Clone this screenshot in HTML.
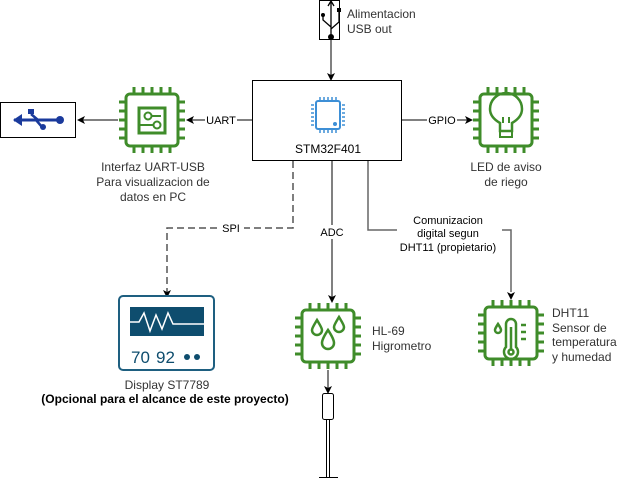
<!DOCTYPE html>
<html><head><meta charset="utf-8"><style>
body{margin:0;background:#fff;}
svg{display:block;font-family:"Liberation Sans",sans-serif;}
</style></head><body>
<svg width="618" height="480" viewBox="0 0 618 480" xmlns="http://www.w3.org/2000/svg">
<defs>
<marker id="ar" markerWidth="8" markerHeight="8" refX="7" refY="4" orient="auto" markerUnits="userSpaceOnUse">
<path d="M0,0 L8,4 L0,8 L2,4 z" fill="#000"/></marker>
<g id="chip" fill="none" stroke="#3f8c2a" stroke-width="3">
<rect x="-26" y="-26" width="52" height="52" rx="4"/>
<path d="M-18,-26v-7M-9,-26v-7M0,-26v-7M9,-26v-7M18,-26v-7M-18,26v7M-9,26v7M0,26v7M9,26v7M18,26v7M-26,-18h-7M-26,-9h-7M-26,0h-7M-26,9h-7M-26,18h-7M26,-18h7M26,-9h7M26,0h7M26,9h7M26,18h7"/>
</g>
</defs>

<rect x="319.5" y="0.5" width="20" height="39" fill="#fff" stroke="#000"/>
<g stroke="#000" stroke-width="1.3" fill="none">
<path d="M331,37V2M331,27L323,20V15M331,29L339,22V10"/><path d="M328,6L331,1L334,6"/>
</g>
<circle cx="331" cy="37" r="3" fill="#000"/><circle cx="323" cy="15" r="2" fill="#000"/><rect x="337" y="8" width="4" height="4" fill="#000"/>
<text x="347" y="18" font-size="12" fill="#333">Alimentacion</text>
<text x="347" y="33" font-size="12" fill="#333">USB out</text>
<line x1="331" y1="40" x2="331" y2="80" stroke="#000" marker-end="url(#ar)"/>

<rect x="252.5" y="80.5" width="149" height="80" fill="#fff" stroke="#000"/>
<g fill="none" stroke="#3d8fd6" stroke-width="2">
<rect x="316" y="101" width="24" height="28" rx="2"/>
</g>
<g stroke="#3d8fd6" stroke-width="1.5">
<path d="M320,97v3M324,97v3M328,97v3M332,97v3M336,97v3M320,130v3M324,130v3M328,130v3M332,130v3M336,130v3M311,105h3M311,109h3M311,113h3M311,117h3M311,121h3M311,125h3M342,105h3M342,109h3M342,113h3M342,117h3M342,121h3M342,125h3"/>
</g>
<circle cx="335" cy="124" r="2" fill="#3d8fd6"/>
<text x="328" y="153" font-size="12" fill="#000" text-anchor="middle">STM32F401</text>

<rect x="0.5" y="102.5" width="75" height="35" fill="#fff" stroke="#000"/>
<g fill="#1a3a9c" stroke="#1a3a9c">
<path d="M14,120H58" stroke-width="3"/>
<path d="M13,120L22,114V126Z" stroke="none"/>
<rect x="28" y="109" width="6" height="5" stroke="none"/>
<path d="M31,114L38,120M36,120L42,127" fill="none" stroke-width="2.5"/>
<circle cx="43" cy="127" r="3" stroke="none"/>
<circle cx="60" cy="120" r="4" stroke="none"/>
</g>

<use href="#chip" x="152" y="120"/>
<rect x="139" y="108" width="26" height="25" fill="none" stroke="#3f8c2a" stroke-width="3"/>
<circle cx="148" cy="116" r="3.5" fill="none" stroke="#3f8c2a" stroke-width="2"/>
<circle cx="157" cy="125" r="3.5" fill="none" stroke="#3f8c2a" stroke-width="2"/>
<path d="M152,116h9M139,125h14" stroke="#3f8c2a" stroke-width="2"/>
<line x1="252" y1="120" x2="187" y2="120" stroke="#000" marker-end="url(#ar)"/>
<rect x="205" y="112" width="32" height="15" fill="#fff"/>
<text x="221" y="124" font-size="11" text-anchor="middle">UART</text>
<line x1="118" y1="120" x2="78" y2="120" stroke="#000" marker-end="url(#ar)"/>
<g font-size="12" fill="#333" text-anchor="middle">
<text x="153" y="171">Interfaz UART-USB</text>
<text x="153" y="186">Para visualizacion de</text>
<text x="153" y="201">datos en PC</text>
</g>

<use href="#chip" x="506" y="120"/>
<path d="M495,133v-8c-7,-4,-10,-9,-10,-14a16,16 0 0 1 32,0c0,5,-3,10,-10,14v8z" fill="none" stroke="#3f8c2a" stroke-width="2.5" transform="translate(5,-2)"/>
<rect x="500" y="131" width="12" height="6" fill="none" stroke="#3f8c2a" stroke-width="2"/>
<path d="M503,123v-6M509,123v-6" stroke="#3f8c2a" stroke-width="2"/>
<line x1="401" y1="120" x2="472" y2="120" stroke="#000" marker-end="url(#ar)"/>
<rect x="427" y="112" width="30" height="15" fill="#fff"/>
<text x="442" y="124" font-size="11" text-anchor="middle">GPIO</text>
<g font-size="12" fill="#333" text-anchor="middle">
<text x="506" y="171">LED de aviso</text>
<text x="506" y="186">de riego</text>
</g>

<path d="M293,161V228H167V292" fill="none" stroke="#555" stroke-width="1.5" stroke-dasharray="7,4"/>
<path d="M167,298l-4,-8l4,2l4,-2z" fill="#000"/>
<rect x="218" y="222" width="26" height="13" fill="#fff"/>
<text x="231" y="232" font-size="11" text-anchor="middle">SPI</text>

<line x1="332" y1="161" x2="332" y2="302" stroke="#000" marker-end="url(#ar)"/>
<rect x="316" y="225" width="32" height="14" fill="#fff"/>
<text x="332" y="236" font-size="11" text-anchor="middle">ADC</text>

<path d="M368,161V230H511V292" fill="none" stroke="#666" stroke-width="1.5"/>
<path d="M511,300l-4,-8l4,2l4,-2z" fill="#000"/>
<rect x="397" y="210" width="105" height="44" fill="#fff"/>
<g font-size="11" text-anchor="middle">
<text x="448" y="224">Comunizacion</text>
<text x="448" y="237">digital segun</text>
<text x="448" y="251">DHT11 (propietario)</text>
</g>

<rect x="119" y="296" width="95" height="74" rx="4" fill="#fff" stroke="#1e5f80" stroke-width="2"/>
<rect x="130" y="307" width="74" height="29" fill="#0e4d6e"/>
<path d="M130,322h9l5,-9l6,18l6,-16l6,14l6,-16l5,11h31" fill="none" stroke="#fff" stroke-width="1.5"/>
<text x="131" y="363" font-size="17" fill="#0e4d6e">70</text>
<text x="156" y="363" font-size="17" fill="#0e4d6e">92</text>
<circle cx="187" cy="357" r="3" fill="#0e4d6e"/><circle cx="197" cy="357" r="3" fill="#0e4d6e"/>
<text x="167" y="389" font-size="12" fill="#333" text-anchor="middle">Display ST7789</text>
<text x="165" y="403" font-size="12" font-weight="bold" fill="#000" text-anchor="middle">(Opcional para el alcance de este proyecto)</text>

<use href="#chip" x="328" y="336"/>
<g fill="none" stroke="#3f8c2a" stroke-width="2.5">
<path d="M317,320c-3,5,-5,8,-5,10a5,5 0 0 0 10,0c0,-2,-2,-5,-5,-10z"/>
<path d="M339,317c-3,5,-5,8,-5,10a5,5 0 0 0 10,0c0,-2,-2,-5,-5,-10z"/>
<path d="M328,330c-4,6,-6,10,-6,13a6,6 0 0 0 12,0c0,-3,-2,-7,-6,-13z"/>
</g>
<text x="372" y="335" font-size="12" fill="#333">HL-69</text>
<text x="372" y="350" font-size="12" fill="#333">Higrometro</text>
<line x1="328" y1="370" x2="328" y2="393" stroke="#000" marker-end="url(#ar)"/>
<rect x="322.5" y="393.5" width="11" height="26" rx="2" fill="#fff" stroke="#000"/>
<path d="M326.5,420V477M329.5,420V477M319,477.5H338" stroke="#000"/>

<use href="#chip" x="511" y="333"/>
<g fill="none" stroke="#3f8c2a" stroke-width="2.5">
<path d="M506,347v-23a5,5 0 0 1 10,0v23a7,7 0 1 1 -10,0z"/>
<circle cx="511" cy="352" r="2.5"/>
<path d="M511,349v-22M521,325h5M521,332h5M521,339h5"/>
<path d="M498,324c-2,3,-3,5,-3,6a3,3 0 0 0 6,0c0,-1,-1,-3,-3,-6z"/>
</g>
<g font-size="12" fill="#333">
<text x="552" y="317">DHT11</text>
<text x="552" y="332">Sensor de</text>
<text x="552" y="346">temperatura</text>
<text x="552" y="361">y humedad</text>
</g>
</svg>
</body></html>
